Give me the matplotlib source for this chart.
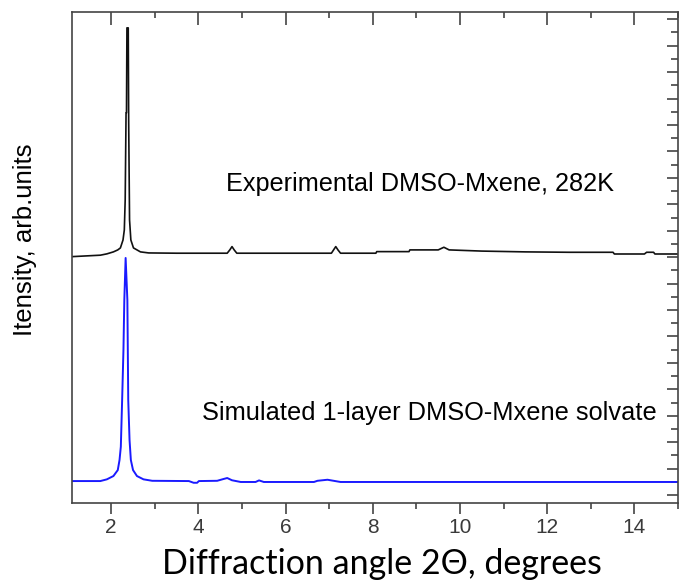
import matplotlib
matplotlib.use("Agg")
import matplotlib.pyplot as plt
from matplotlib.ticker import MultipleLocator, NullFormatter

# ----- data (intensity in arbitrary units) -----------------------------------
exp_2theta = [1.10, 1.75, 1.90, 2.05, 2.15, 2.21, 2.27, 2.30, 2.32, 2.34, 2.35,
              2.36, 2.39, 2.40, 2.42, 2.45, 2.51, 2.67, 2.86, 3.50, 4.66, 4.72,
              4.77, 4.82, 4.88, 6.00, 7.05, 7.10, 7.15, 7.20, 7.26, 8.07, 8.09,
              8.83, 8.85, 9.50, 9.63, 9.75, 10.00, 10.50, 11.50, 12.50, 13.51,
              13.54, 14.23, 14.28, 14.44, 14.47, 15.00]
exp_int = [18.04, 18.15, 18.25, 18.40, 18.55, 18.70, 19.30, 20.06, 22.33, 28.92,
           28.92, 35.35, 35.35, 28.24, 20.82, 19.30, 18.70, 18.40, 18.32, 18.30,
           18.30, 18.55, 18.80, 18.55, 18.30, 18.30, 18.30, 18.55, 18.80, 18.55,
           18.30, 18.30, 18.42, 18.42, 18.55, 18.55, 18.75, 18.55, 18.52, 18.46,
           18.40, 18.37, 18.37, 18.24, 18.24, 18.37, 18.37, 18.24, 18.24]

sim_2theta = [1.10, 1.75, 1.90, 2.05, 2.15, 2.19, 2.22, 2.25, 2.28, 2.30, 2.33,
              2.37, 2.38, 2.39, 2.42, 2.45, 2.50, 2.59, 2.74, 2.94, 3.78, 3.89,
              3.97, 4.01, 4.43, 4.58, 4.66, 4.77, 4.97, 5.31, 5.39, 5.50, 6.65,
              6.73, 6.96, 7.26, 15.00]
sim_int = [1.06, 1.06, 1.19, 1.44, 1.89, 2.65, 3.66, 7.19, 10.98, 14.76, 17.94,
           14.76, 10.98, 7.19, 4.16, 2.65, 1.89, 1.44, 1.19, 1.08, 1.06, 0.93,
           0.93, 1.06, 1.08, 1.22, 1.29, 1.12, 0.99, 0.99, 1.11, 0.99, 0.99,
           1.08, 1.16, 0.99, 0.99]

exp_label = "Experimental DMSO-Mxene, 282K"
sim_label = "Simulated 1-layer DMSO-Mxene solvate"
# ---------------------------------------------------------------------------

plt.rcParams['font.family'] = ['Liberation Sans', 'DejaVu Sans']

fig = plt.figure(figsize=(6.79, 5.87), dpi=100)
ax = fig.add_axes([72/679, 84/587, 606/679, 491/587])

ax.plot(exp_2theta, exp_int, color='#111111', lw=1.2)
ax.plot(sim_2theta, sim_int, color='#1a1aff', lw=1.4)

ax.set_xlim(1.1, 15.0)
ax.set_ylim(-0.6, 36.55)

grey = '#444444'
for s in ax.spines.values():
    s.set_color(grey)
    s.set_linewidth(1.2)

ax.xaxis.set_major_locator(MultipleLocator(2))
ax.xaxis.set_minor_locator(MultipleLocator(1))
ax.tick_params(axis='x', which='major', direction='out', length=8, width=1.2,
               color=grey, labelsize=15, labelcolor='#3a3a3a', pad=3)
ax.tick_params(axis='x', which='minor', direction='out', length=4, width=1.2, color=grey)

# top axis: inward mirror ticks
top = ax.secondary_xaxis('top')
top.xaxis.set_major_locator(MultipleLocator(2))
top.xaxis.set_minor_locator(MultipleLocator(1))
top.xaxis.set_major_formatter(NullFormatter())
top.tick_params(which='major', direction='in', length=9, width=1.2, color=grey)
top.tick_params(which='minor', direction='in', length=4, width=1.2, color=grey)
top.spines['top'].set_visible(False)

# y: no ticks on the left, inward ticks on the right
ax.yaxis.set_major_locator(MultipleLocator(2))
ax.yaxis.set_minor_locator(MultipleLocator(1))
ax.tick_params(axis='y', which='both', left=False, labelleft=False,
               right=True, direction='in', width=1.2, color=grey)
ax.tick_params(axis='y', which='major', length=8)
ax.tick_params(axis='y', which='minor', length=5)

fig.text(0.037, 0.591, "Itensity, arb.units", fontsize=18.5, rotation=90,
         ha='center', va='center')
fig.text(382/679, 0.039, "Diffraction angle 2\u0398, degrees", fontsize=24.5,
         family=['Lato', 'DejaVu Sans'], ha='center', va='center')

fig.text(226/679, 0.686, exp_label, fontsize=18.2, ha='left', va='center')
fig.text(202/679, 0.296, sim_label, fontsize=18.3, ha='left', va='center')

fig.savefig("out.png", dpi=100)
